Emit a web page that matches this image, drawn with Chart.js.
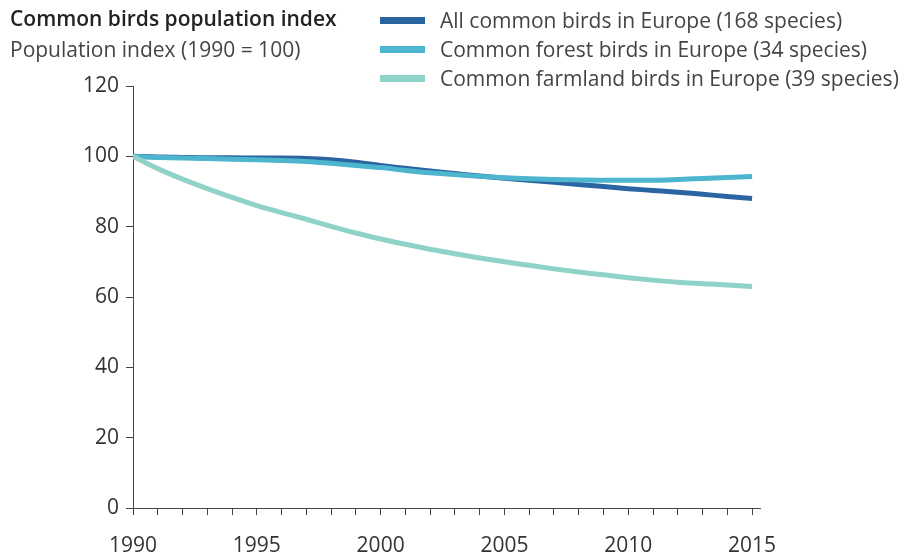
<!DOCTYPE html>
<html>
<head>
<meta charset="utf-8">
<script src="https://cdn.jsdelivr.net/npm/chart.js@4"></script>
<style>
  html, body { margin: 0; padding: 0; background: #fff; }
  #wrap { position: relative; width: 911px; height: 558px; font-family: "Open Sans", sans-serif; color: #333; }
  canvas { position: absolute; left: 0; top: 0; }
  .t { position: absolute; white-space: nowrap; font-size: 21px; line-height: 26px; }
  .title { left: 10px; top: 5px; font-weight: 600; color: #222; }
  .sub { left: 10px; top: 36px; color: #444; }
  .leg { position: absolute; left: 380px; width: 45px; height: 7px; }
  .legt { left: 440px; color: #444; }
</style>
</head>
<body>
<div id="wrap">
  <canvas id="chart" width="911" height="558"></canvas>
  <div class="t title">Common birds population index</div>
  <div class="t sub">Population index (1990 = 100)</div>
  <div id="legend"></div>
</div>
<script>
// data
years = [1990, 1991, 1992, 1993, 1994, 1995, 1996, 1997, 1998, 1999, 2000, 2001, 2002,
	2003, 2004, 2005, 2006, 2007, 2008, 2009, 2010, 2011, 2012, 2013, 2014, 2015];
allBirds = [100, 99.8, 99.7, 99.6, 99.6, 99.5, 99.5, 99.4, 99.0, 98.3, 97.4, 96.6, 95.8,
	95.1, 94.4, 93.8, 93.2, 92.6, 92.0, 91.4, 90.8, 90.3, 89.8, 89.2, 88.6, 88.0];
forestBirds = [100, 99.7, 99.5, 99.4, 99.2, 99.0, 98.8, 98.5, 98.0, 97.4, 96.8, 96.0, 95.3,
	94.8, 94.3, 93.9, 93.6, 93.4, 93.3, 93.2, 93.2, 93.2, 93.4, 93.7, 94.0, 94.3];
farmlandBirds = [100, 96.5, 93.5, 90.8, 88.3, 86.0, 84.0, 82.1, 80.1, 78.2, 76.5, 75.0, 73.6,
	72.3, 71.1, 70.0, 69.0, 68.0, 67.1, 66.3, 65.5, 64.8, 64.2, 63.8, 63.4, 63.0];
seriesNames = [
	'All common birds in Europe (168 species)',
	'Common forest birds in Europe (34 species)',
	'Common farmland birds in Europe (39 species)'
];
colors = ['#2b65a1', '#4db5ce', '#8fd3c8'];
yTicks = [0, 20, 40, 60, 80, 100, 120];

seriesData = [allBirds, forestBirds, farmlandBirds];

// html legend
legendBox = document.getElementById('legend');
seriesNames.forEach(function(name, i) {
	rowY = 17 + i * 29;
	sw = document.createElement('div');
	sw.className = 'leg';
	sw.style.top = rowY + 'px';
	sw.style.background = colors[i];
	legendBox.appendChild(sw);
	tx = document.createElement('div');
	tx.className = 't legt';
	tx.style.top = (rowY - 10) + 'px';
	tx.textContent = name;
	legendBox.appendChild(tx);
});

// farmland drawn first so the darker lines sit on top
datasets = seriesData.map(function(values, i) {
	return {
		label: seriesNames[i],
		data: years.map(function(y, j) { return { x: y, y: values[j] }; }),
		borderColor: colors[i],
		backgroundColor: colors[i],
		borderWidth: 5,
		borderCapStyle: 'butt',
		pointRadius: 0,
		cubicInterpolationMode: 'monotone',
		order: 2 - i
	};
});

tickFont = { family: 'Open Sans', size: 21 };

new Chart(document.getElementById('chart'), {
	type: 'line',
	data: { datasets: datasets },
	options: {
		responsive: false,
		animation: false,
		events: [],
		layout: { padding: { left: 0, top: 86, right: 151, bottom: 0 } },
		plugins: { legend: { display: false }, tooltip: { enabled: false } },
		scales: {
			x: {
				type: 'linear',
				min: 1990,
				max: 2015.32,
				afterFit: function(scale) { scale.height = 50; },
				afterBuildTicks: function(scale) {
					scale.ticks = years.map(function(y) { return { value: y }; });
				},
				ticks: {
					autoSkip: false,
					maxRotation: 0,
					padding: 18,
					color: '#333',
					font: tickFont,
					callback: function(v) { return v % 5 === 0 ? String(v) : ''; }
				},
				grid: { drawOnChartArea: false, drawTicks: true, tickLength: 7, color: '#444' },
				border: { display: true, color: '#444', width: 1 }
			},
			y: {
				min: 0,
				max: 120,
				afterFit: function(scale) { scale.width = 133; },
				afterBuildTicks: function(scale) {
					scale.ticks = yTicks.map(function(v) { return { value: v }; });
				},
				ticks: { padding: 7, color: '#333', font: tickFont },
				grid: { drawOnChartArea: false, drawTicks: true, tickLength: 7, color: '#444' },
				border: { display: true, color: '#444', width: 1 }
			}
		}
	}
});
</script>
</body>
</html>
